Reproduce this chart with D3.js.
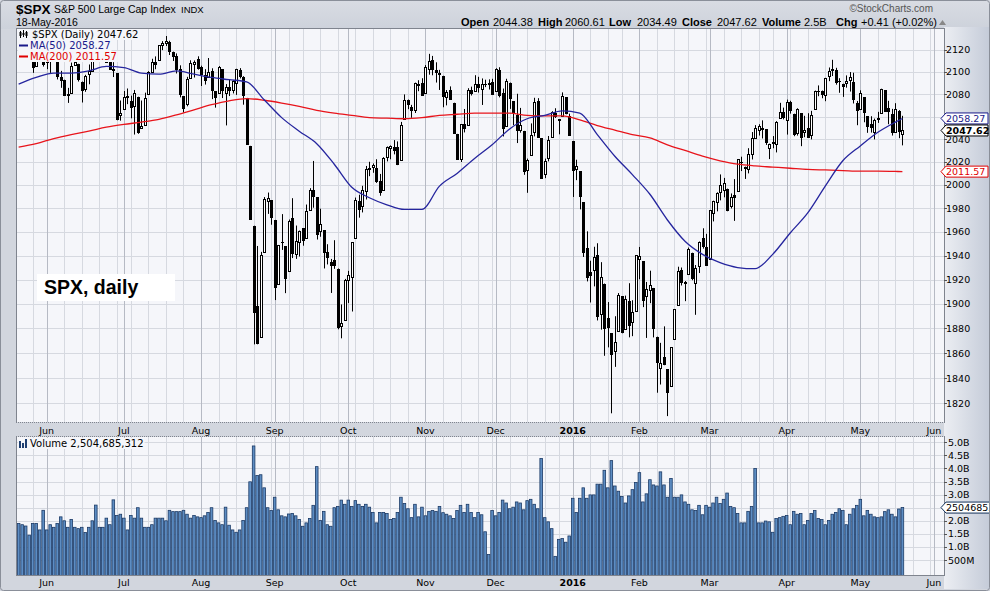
<!DOCTYPE html>
<html>
<head>
<meta charset="utf-8">
<script src="https://cdn.jsdelivr.net/npm/d3@7/dist/d3.min.js"></script>
<style>
html,body{margin:0;padding:0;background:#d3d7df;}
svg{display:block;}
</style>
</head>
<body>
<svg id="chart" width="990" height="591"></svg>
<script>
// ================= DATA =================
const symbol = "$SPX";
const symbolName = "S&P 500 Large Cap Index";
const exchange = "INDX";
const chartDate = "18-May-2016";
const headerLabels = ["Open", "High", "Low", "Close", "Volume", "Chg"];
const headerValues = ["2044.38", "2060.61", "2034.49", "2047.62", "2.5B", "+0.41 (+0.02%)"];
const annotation = "SPX, daily";

const firstTradingDay = "2015-05-19";
const holidays = ["2015-05-25","2015-07-03","2015-09-07","2015-11-26","2015-12-25",
  "2016-01-01","2016-01-18","2016-02-15","2016-03-25","2016-05-30","2016-07-04"];

const opens = [
 2129.45,2127.79,2125.55,2130.36,2125.34,2105.13,2122.27,2120.66,
 2108.64,2110.41,2110.64,2112.35,2095.09,2092.34,2079.07,2081.12,2106.24,2107.43,2091.34,2084.26,2097.40,2101.58,2121.06,2112.50,2123.16,2123.65,2109.96,2102.62,2098.63,2061.19,
 2067.00,2078.03,2073.95,2069.52,2077.66,2049.73,2052.74,2080.03,2099.72,2109.01,2110.55,2124.81,2126.85,2127.55,2118.21,2114.16,2102.24,2078.19,2070.75,2094.70,2106.78,2111.60,
 2104.49,2097.68,2095.27,2100.75,2082.61,2080.98,2102.66,2081.10,2086.19,2083.15,2089.70,2101.99,2095.69,2076.61,2034.08,1965.15,1898.08,1872.75,1942.77,1986.06,1986.73,
 1970.09,1916.52,1950.79,1947.76,1927.30,1971.45,1941.59,1951.45,1963.06,1955.10,1978.02,1995.33,1989.66,1960.84,1961.39,1943.24,1934.81,1935.93,1929.18,1881.90,1887.14,
 1919.65,1921.77,1954.33,1986.63,1982.34,1994.01,2013.73,2015.65,2015.00,2003.66,1996.47,2024.37,2031.73,2033.13,2033.47,2021.88,2058.19,2075.08,2068.75,2066.48,2088.35,2090.00,
 2080.76,2102.63,2110.60,2101.68,2098.60,2096.56,2077.19,2083.41,2072.29,2044.64,2022.08,2053.67,2051.99,2083.70,2082.82,2089.41,2084.42,2089.30,2088.82,2090.95,
 2082.93,2101.71,2080.71,2051.24,2090.42,2073.39,2061.17,2047.93,2047.27,2013.37,2025.55,2046.50,2073.76,2040.81,2010.27,2023.15,2042.20,2063.52,2057.77,2060.54,2077.34,2060.59,
 2038.20,2013.78,2011.71,1985.32,1945.97,1926.12,1927.83,1940.34,1891.68,1916.68,1888.66,1876.18,1861.46,1877.40,1906.28,1878.79,1902.52,1885.22,1894.00,
 1936.94,1935.26,1907.07,1911.67,1913.07,1873.25,1848.46,1857.10,1847.00,1833.40,1871.44,1898.80,1927.57,1916.74,1924.44,1942.38,1917.56,1931.87,1954.95,1947.13,
 1937.09,1976.60,1985.60,1994.01,1996.11,1996.88,1981.44,1990.97,1994.71,2019.27,2015.27,2014.24,2026.90,2041.16,2047.88,2048.64,2048.55,2032.48,2037.89,2035.75,2058.27,2063.77,
 2056.62,2073.19,2062.50,2045.56,2063.01,2045.54,2050.23,2043.72,2065.92,2082.89,2083.10,2078.83,2096.05,2101.52,2102.09,2091.49,2089.37,2089.84,2092.57,2090.93,2071.82,
 2067.17,2077.18,2060.30,2052.95,2046.61,2057.55,2062.63,2083.29,2067.17,2062.50,2046.53,2065.04,2044.38];
const highs = [
 2133.02,2133.02,2134.28,2132.15,2125.34,2126.22,2122.27,2120.66,
 2119.15,2117.59,2121.92,2112.89,2100.99,2093.01,2085.62,2108.50,2115.02,2107.43,2091.34,2097.40,2106.79,2126.65,2121.64,2129.87,2128.03,2125.10,2116.04,2108.92,2098.63,2074.28,
 2082.78,2085.06,2078.61,2083.74,2077.66,2074.28,2081.31,2100.67,2111.98,2114.14,2124.42,2128.13,2132.82,2128.49,2118.51,2116.87,2106.01,2078.19,2095.60,2110.60,2110.48,2114.24,
 2105.70,2102.51,2112.66,2103.32,2082.61,2105.35,2102.66,2089.06,2092.93,2092.45,2102.87,2103.47,2096.17,2076.61,2034.08,1965.15,1948.04,1943.09,1989.60,1993.48,1986.73,
 1970.09,1948.91,1975.01,1947.76,1970.42,1988.63,1965.29,1961.05,1963.06,1983.19,1997.26,2020.86,1989.66,1979.64,1961.39,1949.52,1937.17,1952.89,1929.18,1899.48,1920.53,
 1927.21,1951.36,1989.17,1991.62,1999.31,2016.50,2020.13,2018.66,2022.34,2009.56,2024.15,2033.54,2034.45,2039.12,2037.97,2055.20,2079.74,2075.14,2070.37,2090.35,2092.52,2094.32,
 2106.20,2116.48,2114.59,2108.78,2101.91,2096.56,2083.67,2086.94,2072.29,2044.64,2053.22,2066.69,2085.31,2086.74,2097.06,2095.61,2094.12,2093.00,2093.29,2093.81,
 2103.37,2104.27,2085.00,2093.84,2090.42,2073.85,2080.33,2067.65,2047.27,2022.92,2053.87,2076.72,2076.37,2040.81,2022.90,2042.74,2064.73,2067.36,2057.77,2081.56,2077.34,2062.54,
 2038.20,2021.94,2011.71,1985.32,1960.40,1935.65,1947.38,1950.33,1934.47,1916.68,1901.44,1876.18,1889.85,1908.85,1906.28,1906.73,1916.99,1902.96,1940.24,
 1947.20,1935.26,1918.01,1927.35,1913.07,1873.25,1868.25,1881.60,1847.00,1864.78,1895.77,1930.68,1930.00,1918.78,1946.70,1942.38,1932.08,1951.83,1962.96,1958.27,
 1978.35,1986.51,1993.69,2009.13,2006.12,1996.88,1992.69,2005.08,2022.37,2024.57,2015.94,2032.02,2046.24,2052.36,2053.13,2056.60,2048.55,2036.04,2042.67,2055.91,2072.21,2067.92,
 2075.07,2074.02,2062.50,2067.33,2063.01,2060.63,2062.93,2065.05,2083.18,2087.84,2083.22,2094.66,2104.05,2111.05,2103.78,2094.32,2089.37,2096.87,2099.89,2099.30,2073.85,
 2083.42,2077.18,2060.30,2060.23,2058.12,2064.15,2084.87,2083.29,2073.99,2066.79,2071.88,2065.69,2060.61];
const lows = [
 2124.50,2117.59,2122.95,2126.06,2099.18,2105.13,2112.86,2104.89,
 2102.54,2099.14,2109.61,2093.23,2085.67,2079.11,2072.14,2081.12,2106.24,2091.33,2072.49,2082.10,2088.86,2101.58,2109.45,2112.50,2119.89,2108.58,2101.78,2095.38,2056.64,2056.32,
 2067.00,2071.02,2058.40,2044.02,2044.66,2049.73,2052.74,2080.03,2099.72,2102.49,2110.55,2119.88,2123.66,2115.40,2110.00,2098.63,2077.09,2063.52,2069.09,2094.08,2094.97,2102.07,
 2087.31,2088.60,2095.27,2075.53,2067.91,2080.98,2076.49,2052.09,2078.26,2080.61,2079.30,2094.14,2070.53,2035.73,1970.89,1867.01,1867.08,1872.75,1942.77,1975.19,1965.98,
 1903.07,1916.52,1944.72,1908.77,1927.30,1937.88,1937.19,1939.19,1948.27,1954.30,1977.93,1980.48,1953.45,1955.80,1929.22,1932.57,1908.92,1928.92,1879.21,1871.91,1887.14,
 1900.70,1893.70,1954.33,1971.99,1976.44,1987.53,2007.61,2010.55,2001.78,1990.73,1996.47,2020.46,2022.31,2026.61,2017.22,2021.88,2058.19,2066.53,2058.84,2063.11,2082.63,2079.34,
 2080.76,2097.51,2096.98,2090.41,2083.74,2068.24,2069.91,2074.85,2045.66,2022.02,2019.94,2045.90,2051.99,2078.76,2082.82,2081.39,2070.29,2086.30,2084.13,2080.41,
 2082.93,2077.11,2042.35,2051.24,2066.78,2052.32,2036.53,2045.67,2008.80,1993.26,2025.55,2042.43,2041.66,2005.33,2005.93,2020.49,2042.20,2058.73,2044.20,2060.54,2061.97,2043.62,
 1989.68,2004.17,1979.05,1938.83,1918.46,1901.10,1914.35,1886.41,1878.93,1857.83,1864.60,1812.29,1848.98,1877.40,1875.97,1878.79,1872.70,1873.65,1894.00,
 1920.30,1897.29,1872.23,1900.52,1872.65,1828.46,1834.94,1850.32,1810.10,1833.40,1871.44,1898.80,1915.09,1902.17,1924.44,1919.44,1891.00,1925.41,1945.78,1931.81,
 1937.09,1968.80,1977.37,1986.77,1989.38,1977.43,1979.84,1969.25,1994.71,2012.05,2005.23,2010.04,2022.16,2041.16,2043.14,2040.57,2034.86,2022.49,2031.96,2028.31,2058.27,2057.46,
 2043.98,2062.57,2042.56,2043.09,2033.80,2041.69,2041.88,2039.74,2065.92,2078.13,2076.31,2073.65,2091.68,2096.32,2088.52,2081.20,2077.52,2085.80,2082.31,2071.62,2052.28,
 2066.11,2054.89,2045.55,2045.77,2039.74,2054.31,2062.63,2064.46,2053.13,2043.13,2046.53,2040.82,2034.49];
const closes = [
 2127.83,2125.85,2130.82,2126.06,2104.20,2123.48,2120.79,2107.39,
 2111.73,2109.60,2114.07,2095.84,2092.83,2079.28,2080.15,2105.20,2108.86,2094.11,2084.43,2096.29,2100.44,2121.24,2109.99,2122.85,2124.20,2108.58,2102.31,2101.49,2057.64,2063.11,
 2077.42,2076.78,2068.76,2081.34,2046.68,2051.31,2076.62,2099.60,2108.95,2107.40,2124.29,2126.64,2128.28,2119.21,2114.15,2102.15,2079.65,2067.64,2093.25,2108.57,2108.63,2103.84,
 2098.04,2093.32,2099.84,2083.56,2077.57,2104.18,2084.07,2086.05,2083.39,2091.54,2102.44,2096.92,2079.61,2035.73,1970.89,1893.21,1867.61,1940.51,1987.66,1988.87,1972.18,
 1913.85,1948.86,1951.13,1921.22,1969.41,1942.04,1952.29,1961.05,1953.03,1978.09,1995.31,1990.20,1958.03,1966.97,1942.74,1938.76,1932.24,1931.34,1881.77,1884.09,1920.03,
 1923.82,1951.36,1987.05,1979.92,1995.83,2013.43,2014.89,2017.46,2003.69,1994.24,2023.86,2033.11,2033.66,2030.77,2018.94,2052.51,2075.15,2071.18,2065.89,2090.35,2089.41,2079.36,
 2104.05,2109.79,2102.31,2099.93,2099.20,2078.58,2081.72,2075.00,2045.97,2023.04,2053.19,2050.44,2083.58,2081.24,2089.17,2086.59,2089.14,2088.87,2090.11,2080.41,
 2102.63,2079.51,2049.62,2091.69,2077.07,2063.59,2047.62,2052.23,2012.37,2021.94,2043.41,2073.07,2041.89,2005.55,2021.15,2038.97,2064.29,2060.99,2056.50,2078.36,2063.36,2043.94,
 2012.66,2016.71,1990.26,1943.09,1922.03,1923.67,1938.68,1890.28,1921.84,1880.33,1881.33,1859.33,1868.99,1906.90,1877.08,1903.63,1882.95,1893.36,1940.24,
 1939.38,1903.03,1912.53,1915.45,1880.05,1853.44,1852.21,1851.86,1829.08,1864.78,1895.58,1926.82,1917.83,1917.78,1945.50,1921.27,1929.80,1951.70,1948.05,1932.23,
 1978.35,1986.45,1993.40,1999.99,2001.76,1979.26,1989.26,1989.57,2022.19,2019.64,2015.93,2027.22,2040.59,2049.58,2051.60,2049.80,2036.71,2035.94,2037.05,2055.01,2063.95,2059.74,
 2072.78,2066.13,2045.17,2066.66,2041.91,2047.60,2041.99,2061.72,2082.42,2082.78,2080.73,2094.34,2100.80,2102.40,2091.48,2091.58,2087.79,2091.70,2095.15,2075.81,2065.30,
 2081.43,2063.37,2051.12,2050.63,2057.14,2058.69,2084.39,2064.46,2064.11,2046.61,2066.66,2047.21,2047.62];
// volume, billions of shares
const volumes = [
 1.90,1.85,1.80,1.45,1.90,1.90,1.65,2.40,
 1.65,1.85,1.75,1.90,2.15,2.00,1.75,2.05,1.75,1.70,1.75,1.55,1.75,2.00,2.60,1.75,1.75,2.10,1.85,2.80,2.20,2.25,
 2.10,1.65,2.20,2.10,2.50,2.10,1.75,1.75,1.85,2.10,2.10,2.10,2.00,2.40,2.35,2.35,2.35,2.40,2.25,2.10,2.20,2.15,
 2.12,2.19,2.32,2.50,2.01,1.92,1.85,2.52,1.83,1.65,1.56,1.65,2.01,2.50,3.49,4.86,3.73,3.76,3.26,2.50,2.39,
 2.90,2.42,2.19,2.15,2.26,2.28,2.19,2.05,1.79,1.92,2.09,2.59,4.07,2.01,2.36,1.85,1.79,2.50,2.55,2.79,2.63,
 2.79,2.55,2.77,2.63,2.55,2.63,2.52,2.32,1.92,2.32,2.32,2.28,2.05,2.09,2.32,2.90,2.66,2.46,2.12,2.63,2.15,2.52,
 2.19,2.36,2.39,2.36,2.55,2.31,2.25,2.19,2.09,2.39,2.59,2.32,2.63,2.32,2.12,2.32,2.23,1.58,0.71,2.39,
 2.19,2.32,2.79,2.68,2.46,2.52,2.72,2.68,2.42,2.77,2.82,2.63,2.46,4.38,2.12,1.96,1.70,0.64,1.29,1.32,1.18,1.42,
 2.86,2.32,2.86,3.26,2.86,2.99,2.99,3.40,3.40,3.93,3.26,4.30,3.33,3.13,2.93,2.68,2.95,3.19,3.46,
 3.84,2.72,3.03,3.57,3.37,3.33,3.87,3.37,2.90,3.62,2.90,2.90,2.99,2.72,2.63,2.42,2.39,2.59,2.23,2.59,
 2.52,2.68,2.90,2.66,2.82,3.06,2.55,2.50,2.28,1.92,1.92,2.36,2.55,4.00,1.92,1.92,1.99,1.96,1.56,2.09,2.12,2.17,
 2.20,1.85,2.36,2.25,2.28,1.85,2.01,2.28,2.39,2.09,2.05,1.85,2.01,2.25,2.32,2.46,2.39,1.85,2.25,2.46,2.59,
 2.82,2.19,2.39,2.25,2.15,2.12,2.15,2.35,2.42,2.25,2.15,2.45,2.504685312];
const lastVolumeText = "2,504,685,312";
const lastVolumeTag = "2504685312";

// moving averages, at these trading-day numbers
const maDays = [0,5,10,15,20,25,30,35,40,45,50,55,60,65,70,75,80,85,90,95,100,105,110,115,120,125,
  130,135,140,145,150,155,160,165,170,175,180,185,190,195,200,205,210,215,220,225,230,235,240,245,250,252];
const ma50 = [2089,2095,2099,2099,2101,2105,2104,2099,2098,2101,2098,2095,2093,2091,2075,2059,2047,2036,2018,1998,
  1989,1983,1979,1979,1999,2010,2023,2035,2049,2058,2061,2065,2063,2044,2025,2009,1992,1970,1952,1941,
  1934,1930,1929,1941,1959,1976,1999,2021,2034,2046,2055,2058.27];
const ma200 = [2033,2036,2040.5,2044,2047,2050.5,2053,2055,2057.5,2061.5,2066,2070.5,2074,2076,2074.5,2072,2069,2065.5,2063,2061,
  2059,2058.5,2058,2059,2061,2062,2063,2063,2063,2061,2060.5,2060.5,2057,2052,2048,2044,2041,2035,2030,2025,
  2021,2018,2016.5,2015.5,2014.5,2013.5,2013,2012.5,2012,2012,2011.7,2011.57];
const ma50Label = "MA(50) 2058.27";
const ma200Label = "MA(200) 2011.57";
const ma50Last = 2058.27, ma200Last = 2011.57, closeLast = 2047.62;

const priceTicks = [1820,1840,1860,1880,1900,1920,1940,1960,1980,2000,2020,2040,2060,2080,2100,2120];
const volumeTicks = [0.5,1,1.5,2,2.5,3,3.5,4,4.5,5];
const volumeTickLabels = ["500M","1.0B","1.5B","2.0B","2.5B","3.0B","3.5B","4.0B","4.5B","5.0B"];
const monthNames = ["2016","Feb","Mar","Apr","May","Jun","Jul","Aug","Sep","Oct","Nov","Dec"];

// ================= LAYOUT =================
const svg = d3.select("#chart");
const W = 990, H = 591;
const M = {l:17, r:944, t:29, b:422};   // price panel
const V = {l:17, r:944, t:437, b:575};  // volume panel
const PLOT_BG = "#f5f6fa";
const SANS = "'DejaVu Sans', Verdana, sans-serif";
const ARIAL = "'Liberation Sans', Arial, sans-serif";

// trading calendar
const parse = d3.utcParse("%Y-%m-%d"), fmt = d3.utcFormat("%Y-%m-%d");
const holidaySet = new Set(holidays);
const days = [];
for (let d = parse(firstTradingDay); days.length < 268; d = d3.utcDay.offset(d, 1)) {
  const wd = d.getUTCDay();
  if (wd !== 0 && wd !== 6 && !holidaySet.has(fmt(d))) days.push(d);
}
const n = closes.length;
const bars = d3.range(n).map(i => ({i, o:opens[i], h:highs[i], l:lows[i], c:closes[i], v:volumes[i]}));

// scales
const x = d3.scaleLinear().domain([-0.47, 263.86]).range([M.l, M.r]);
const y = d3.scaleLog().domain([1805.5, 2139.3]).range([M.b, M.t]);
const yv = d3.scaleLinear().domain([0, 5]).range([573.1, 442.3]);

const lastIdx = Math.floor(x.invert(M.r));
const monthStarts = [], weekStarts = [];
for (let i = 1; i <= lastIdx; i++) {
  if (days[i].getUTCMonth() !== days[i-1].getUTCMonth()) monthStarts.push(i);
  if (d3.utcMonday.floor(days[i]).getTime() !== d3.utcMonday.floor(days[i-1]).getTime()) weekStarts.push(i);
}
const snap = v => Math.round(v) + 0.5;

// ---- backgrounds ----
const defs = svg.append("defs");
const grad = defs.append("linearGradient").attr("id","rgrad").attr("x1","0").attr("x2","1").attr("y1","0").attr("y2","0");
grad.append("stop").attr("offset","0").attr("stop-color","#eceef3");
grad.append("stop").attr("offset","1").attr("stop-color","#c4cbd8");
const hgrad = defs.append("linearGradient").attr("id","hgrad").attr("x1","0").attr("x2","0").attr("y1","0").attr("y2","1");
hgrad.append("stop").attr("offset","0").attr("stop-color","#d9dce3");
hgrad.append("stop").attr("offset","1").attr("stop-color","#cdd2db");
defs.append("clipPath").attr("id","clipP").append("rect").attr("x",M.l).attr("y",M.t).attr("width",M.r-M.l).attr("height",M.b-M.t);
defs.append("clipPath").attr("id","clipV").append("rect").attr("x",V.l).attr("y",V.t).attr("width",V.r-V.l).attr("height",V.b-V.t);

svg.append("rect").attr("width",W).attr("height",H).attr("fill","#d2d6de");
svg.append("rect").attr("width",W).attr("height",M.t).attr("fill","url(#hgrad)");
svg.append("rect").attr("x",M.r).attr("y",M.t - 2).attr("width",W-M.r).attr("height",H-M.t).attr("fill","url(#rgrad)");
svg.append("rect").attr("x",M.l).attr("y",M.t).attr("width",M.r-M.l).attr("height",M.b-M.t).attr("fill",PLOT_BG);
svg.append("rect").attr("x",V.l).attr("y",V.t).attr("width",V.r-V.l).attr("height",V.b-V.t).attr("fill",PLOT_BG);

// ---- grids ----
function vGrid(panel, g) {
  g.selectAll("line.wk").data(weekStarts).join("line")
    .attr("x1", i => snap(x(i))).attr("x2", i => snap(x(i)))
    .attr("y1", panel.t).attr("y2", panel.b)
    .attr("stroke", "#d6d9e0").attr("stroke-width", 1);
  g.selectAll("line.mo").data(monthStarts).join("line")
    .attr("x1", i => snap(x(i))).attr("x2", i => snap(x(i)))
    .attr("y1", panel.t).attr("y2", panel.b)
    .attr("stroke", "#b6bac4").attr("stroke-width", 1);
}
const gridP = svg.append("g");
gridP.selectAll("line.h").data(priceTicks).join("line")
  .attr("x1", M.l).attr("x2", M.r).attr("y1", d => snap(y(d))).attr("y2", d => snap(y(d)))
  .attr("stroke", "#d6d9e0");
vGrid(M, gridP.append("g"));
const gridV = svg.append("g");
gridV.selectAll("line.h").data(volumeTicks).join("line")
  .attr("x1", V.l).attr("x2", V.r).attr("y1", d => snap(yv(d))).attr("y2", d => snap(yv(d)))
  .attr("stroke", "#d6d9e0");
vGrid(V, gridV.append("g"));

// ---- annotation box ----
svg.append("rect").attr("x",37).attr("y",274).attr("width",138).attr("height",27).attr("fill","#ffffff");
svg.append("text").attr("x",44).attr("y",294).attr("font-family",ARIAL).attr("font-weight","bold")
  .attr("font-size",19.5).attr("fill","#000").text(annotation);

// ---- candles ----
const cg = svg.append("g").attr("clip-path","url(#clipP)");
const cx = i => Math.round(x(i));
cg.selectAll("line.wick").data(bars).join("line")
  .attr("x1", d => cx(d.i) + 0.5).attr("x2", d => cx(d.i) + 0.5)
  .attr("y1", d => y(d.h)).attr("y2", d => y(d.l))
  .attr("stroke", "#000").attr("stroke-width", 1);
cg.selectAll("rect.body").data(bars).join("rect")
  .attr("x", d => cx(d.i) - 0.5)
  .attr("y", d => snap(y(Math.max(d.o, d.c))) )
  .attr("width", 2)
  .attr("height", d => Math.max(0.01, Math.round(Math.abs(y(d.o) - y(d.c)))))
  .attr("fill", d => d.c >= d.o ? "#ffffff" : "#000000")
  .attr("stroke", "#000").attr("stroke-width", 1);

// ---- moving averages ----
const maLine = d3.line().x(d => x(d[0])).y(d => y(d[1])).curve(d3.curveMonotoneX);
cg.append("path").attr("d", maLine(maDays.map((d,k) => [d, ma200[k]])))
  .attr("fill","none").attr("stroke","#e8141b").attr("stroke-width",1.3);
cg.append("path").attr("d", maLine(maDays.map((d,k) => [d, ma50[k]])))
  .attr("fill","none").attr("stroke","#25259e").attr("stroke-width",1.3);

// ---- volume bars ----
const vg = svg.append("g").attr("clip-path","url(#clipV)");
vg.selectAll("rect.vol").data(bars).join("rect")
  .attr("x", d => x(d.i) - 1.3).attr("width", 2.6)
  .attr("y", d => yv(d.v)).attr("height", d => V.b + 2 - yv(d.v))
  .attr("fill", "#5d8dc3").attr("stroke", "#1b3a66").attr("stroke-width", 0.8);

// ---- legends ----
function legendRow(xp, yp, txt, color, weight) {
  const t = svg.append("text").attr("x", xp).attr("y", yp).attr("font-family", SANS)
    .attr("font-size", 10).attr("fill", color).attr("font-weight", weight || "normal").text(txt);
  const w = t.node().getComputedTextLength();
  svg.insert("rect", () => t.node()).attr("x", 18).attr("y", yp - 9).attr("width", xp + w - 17).attr("height", 11)
    .attr("fill", PLOT_BG);
  return t;
}
legendRow(32, 38, "$SPX (Daily) 2047.62", "#000");
legendRow(30, 49, ma50Label, "#1a1a8a");
legendRow(30, 60, ma200Label, "#e00000");
legendRow(30, 447, "Volume " + lastVolumeText, "#000");
// icons
const ic = svg.append("g");
[[20,31,38,32,36],[23,30,37,33,35],[26,31,38,32,36]].forEach(a => {
  ic.append("line").attr("x1",a[0]+0.5).attr("x2",a[0]+0.5).attr("y1",a[1]).attr("y2",a[2]).attr("stroke","#000");
  ic.append("rect").attr("x",a[0]-0.5).attr("y",a[3]).attr("width",2).attr("height",a[4]-a[3]).attr("fill","#000");
});
ic.append("line").attr("x1",19).attr("x2",28).attr("y1",45.5).attr("y2",45.5).attr("stroke","#1a1a8a").attr("stroke-width",2);
ic.append("line").attr("x1",19).attr("x2",28).attr("y1",56.5).attr("y2",56.5).attr("stroke","#e00000").attr("stroke-width",2);
[[19,441,448],[22,443,448],[25,439,448]].forEach(a => {
  ic.append("rect").attr("x",a[0]).attr("y",a[1]).attr("width",2).attr("height",a[2]-a[1]).attr("fill","#1e3f72");
});

// ---- panel borders ----
[M, V].forEach(p => {
  svg.append("rect").attr("x", p.l - 0.5).attr("y", p.t - 0.5).attr("width", p.r - p.l + 1).attr("height", p.b - p.t + 1)
    .attr("fill","none").attr("stroke","#7f848e").attr("stroke-width",1);
});
svg.append("line").attr("x1",M.l).attr("x2",M.r).attr("y1",M.b+0.5).attr("y2",M.b+0.5)
  .attr("stroke","#d2d6de").attr("stroke-dasharray","1,1");
svg.append("line").attr("x1",V.l).attr("x2",V.r).attr("y1",V.t-0.5).attr("y2",V.t-0.5)
  .attr("stroke","#d2d6de").attr("stroke-dasharray","1,1");

// ---- right axes ----
const ax = svg.append("g").attr("font-family", SANS).attr("font-size", 9.5).attr("fill", "#000");
ax.selectAll("line.pt").data(priceTicks).join("line")
  .attr("x1", M.r).attr("x2", M.r + 3).attr("y1", d => snap(y(d))).attr("y2", d => snap(y(d))).attr("stroke","#555");
ax.selectAll("text.pt").data(priceTicks).join("text")
  .attr("x", M.r + 2).attr("y", d => y(d) + 3.5).text(d => d);
ax.selectAll("line.vt").data(volumeTicks).join("line")
  .attr("x1", V.r).attr("x2", V.r + 3).attr("y1", d => snap(yv(d))).attr("y2", d => snap(yv(d))).attr("stroke","#555");
ax.selectAll("text.vt").data(volumeTicks).join("text")
  .attr("x", V.r + 4).attr("y", d => yv(d) + 3.5).text((d,k) => volumeTickLabels[k]);

function tag(yp, txt, color, bold) {
  const g = svg.append("g");
  g.append("path").attr("d", `M${M.r-3},${yp} L${M.r+2},${yp-5.5} L${M.r+44},${yp-5.5} L${M.r+44},${yp+5.5} L${M.r+2},${yp+5.5} Z`)
    .attr("fill","#ffffff").attr("stroke",color).attr("stroke-width",1);
  g.append("text").attr("x", M.r + 2).attr("y", yp + 3.6).attr("font-family", SANS).attr("font-size", 9.5)
    .attr("font-weight", bold ? "bold" : "normal").attr("fill", color).text(txt);
}
tag(y(ma50Last), ma50Last.toFixed(2), "#1a1a8a", false);
tag(y(closeLast), closeLast.toFixed(2), "#000000", true);
tag(y(ma200Last), ma200Last.toFixed(2), "#e00000", false);
// volume tag (runs off the right edge, as in the original)
(function(){
  const yp = yv(volumes[n-1]);
  svg.append("path").attr("d", `M${V.r-3},${yp} L${V.r+2},${yp-5.5} L${W+5},${yp-5.5} L${W+5},${yp+5.5} L${V.r+2},${yp+5.5} Z`)
    .attr("fill","#ffffff").attr("stroke","#12305a");
  svg.append("text").attr("x", V.r + 2).attr("y", yp + 3.6).attr("font-family", SANS).attr("font-size", 9.5)
    .attr("fill","#000").text(lastVolumeTag);
})();

// ---- date axis labels ----
function dateLabels(yp) {
  svg.append("g").selectAll("text").data(monthStarts).join("text")
    .attr("x", i => x(i)).attr("y", yp).attr("text-anchor","middle")
    .attr("font-family", SANS).attr("font-size", 9.5)
    .attr("font-weight", i => days[i].getUTCMonth() === 0 ? "bold" : "normal")
    .attr("fill","#000")
    .text(i => monthNames[days[i].getUTCMonth()]);
}
dateLabels(434);
dateLabels(586);

// ---- header ----
svg.append("text").attr("x",16).attr("y",14).attr("font-family",ARIAL).attr("font-size",13.5)
  .attr("font-weight","bold").attr("fill","#000").text(symbol);
svg.append("text").attr("x",54).attr("y",13).attr("font-family",ARIAL).attr("font-size",10.5)
  .attr("fill","#000").text(symbolName);
svg.append("text").attr("x",181).attr("y",13).attr("font-family",ARIAL).attr("font-size",9.5)
  .attr("fill","#000").text(exchange);
svg.append("text").attr("x",16).attr("y",26).attr("font-family",ARIAL).attr("font-size",10.5)
  .attr("fill","#000").text(chartDate);
svg.append("text").attr("x",933).attr("y",12).attr("text-anchor","end").attr("font-family",ARIAL)
  .attr("font-size",10).attr("fill","#555").text("\u00A9StockCharts.com");
const hx = [[461,493],[538,565],[609,637],[682,717],[762,804],[836,861]];
headerLabels.forEach((lab,k) => {
  svg.append("text").attr("x",hx[k][0]).attr("y",26).attr("font-family",ARIAL).attr("font-size",11)
    .attr("font-weight","bold").attr("fill","#000").text(lab);
  svg.append("text").attr("x",hx[k][1]).attr("y",26).attr("font-family",ARIAL).attr("font-size",11)
    .attr("fill","#000").text(headerValues[k]);
});
svg.append("path").attr("d","M939,25 L942.5,20 L946,25 Z").attr("fill","#888");

// outer frame
svg.append("rect").attr("x",0.5).attr("y",0.5).attr("width",W-1).attr("height",H-1)
  .attr("fill","none").attr("stroke","#8a8f99").attr("rx",3);
</script>
</body>
</html>
